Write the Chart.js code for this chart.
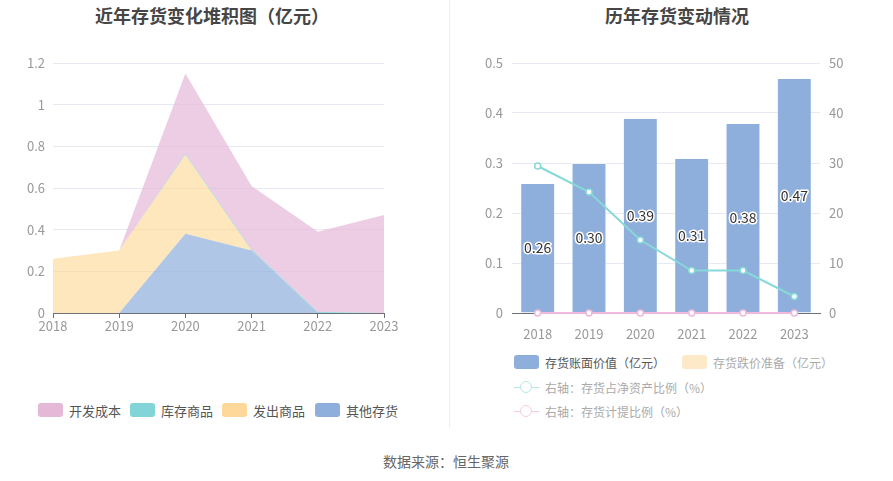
<!DOCTYPE html>
<html>
<head>
<meta charset="utf-8">
<script src="https://cdn.jsdelivr.net/npm/chart.js@4"></script>
<style>
  body { margin: 0; width: 893px; height: 481px; background: #fff; position: relative; overflow: hidden;
         font-family: "Noto Sans CJK SC", "Noto Sans", sans-serif; }
  .title { position: absolute; top: 2px; font-size: 18px; font-weight: bold; color: #464646; transform: translateX(-50%); white-space: nowrap; }
  .divider { position: absolute; left: 449px; top: 0; width: 1px; height: 428px; background: #eeeeee; }
  .wrap { position: absolute; top: 0; height: 340px; }
  .legend { position: absolute; white-space: nowrap; }
  .item { position: absolute; display: flex; align-items: center; height: 16px; }
  .box { width: 25px; height: 14px; border-radius: 3px; margin-right: 6px; }
  .lineicon { width: 25px; height: 14px; margin-right: 6px; position: relative; }
  .lineicon i { position: absolute; left: 0; top: 6.5px; width: 25px; height: 1.5px; }
  .lineicon b { position: absolute; left: 6px; top: 1px; width: 10px; height: 10px; border-radius: 50%; background: #fff; border: 1.5px solid; }
  .source { position: absolute; left: 446px; top: 451px; transform: translateX(-50%); font-size: 14px; color: #666; white-space: nowrap; }
</style>
</head>
<body>
<div class="title" style="left:212px">近年存货变化堆积图（亿元）</div>
<div class="title" style="left:677px">历年存货变动情况</div>
<div class="divider"></div>

<div class="wrap" style="left:0;width:449px"><canvas id="stackChart"></canvas></div>
<div class="wrap" style="left:449px;width:444px"><canvas id="changeChart"></canvas></div>

<div class="legend" id="leftLegend" style="font-size:13px"></div>
<div class="legend" id="rightLegend" style="font-size:12px"></div>
<div class="source">数据来源：恒生聚源</div>

<script>
// ── data ──────────────────────────────────
const years = ['2018', '2019', '2020', '2021', '2022', '2023'];

// left: stacked areas (bottom → top)
const otherStock   = [0, 0, 0.38, 0.30, 0, 0];          // 其他存货
const shippedGoods = [0.26, 0.30, 0.38, 0, 0, 0];       // 发出商品
const goodsInStock = [0, 0, 0.005, 0.005, 0.005, 0];    // 库存商品
const devCost      = [0, 0, 0.385, 0.305, 0.385, 0.47]; // 开发成本

// right: bars + lines
const bookValue     = [0.26, 0.30, 0.39, 0.31, 0.38, 0.47]; // 存货账面价值（亿元）
const impairment    = [0, 0, 0, 0, 0, 0];                  // 存货跌价准备（亿元）
const netAssetRatio = [29.4, 24.2, 14.6, 8.5, 8.5, 3.3];   // 存货占净资产比例（%）
const provisionRate = [0, 0, 0, 0, 0, 0];                  // 存货计提比例（%）

const leftTicks   = [0, 0.2, 0.4, 0.6, 0.8, 1, 1.2];
const rightTicksL = [0, 0.1, 0.2, 0.3, 0.4, 0.5];
const rightTicksR = [0, 10, 20, 30, 40, 50];

const FONT = '"Noto Sans CJK SC", "Noto Sans", sans-serif';
const tickFont = { family: FONT, size: 13 };
const tickColor = '#999';
const gridColor = '#e6e9f4';
const axisColor = '#6e7079';
const plain = v => String(Number(v.toFixed(2)));

Chart.defaults.animation = false;
Chart.defaults.font.family = FONT;

// ── CHART 1: stacked area ─────────────────
const stackSeries = [
  { label: '其他存货', data: otherStock,   fill: 'origin', color: 'rgba(142,174,219,0.7)' },
  { label: '发出商品', data: shippedGoods, fill: '-1',     color: 'rgba(253,216,154,0.65)' },
  { label: '库存商品', data: goodsInStock, fill: '-1',     color: 'rgba(130,212,214,0.9)' },
  { label: '开发成本', data: devCost,      fill: '-1',     color: 'rgba(230,184,216,0.7)' }
];

new Chart(document.getElementById('stackChart'), {
  type: 'line',
  data: {
    labels: years,
    datasets: stackSeries.map(s => ({
      label: s.label,
      data: s.data,
      fill: s.fill,
      backgroundColor: s.color,
      borderColor: s.color,
      borderWidth: 0,
      pointRadius: 0,
      tension: 0
    }))
  },
  options: {
    responsive: false,
    maintainAspectRatio: false,
    layout: { padding: { top: 63, right: 65, left: 0, bottom: 0 } },
    plugins: { legend: { display: false }, tooltip: { enabled: false } },
    scales: {
      x: {
        offset: false,
        grid: { drawOnChartArea: false, drawTicks: true, tickLength: 5, color: axisColor },
        border: { color: axisColor },
        ticks: { font: tickFont, color: tickColor, padding: 0, maxRotation: 0 },
        afterFit: s => { s.height = 27; }
      },
      y: {
        stacked: true,
        min: 0, max: 1.2,
        afterBuildTicks: s => { s.ticks = leftTicks.map(v => ({ value: v })); },
        grid: { color: gridColor, drawTicks: false },
        border: { display: false },
        ticks: { font: tickFont, color: tickColor, padding: 8, callback: plain },
        afterFit: s => { s.width = 53; }
      }
    }
  }
});

// ── CHART 2: bars + ratio lines ───────────
const barLabels = {
  id: 'barLabels',
  afterDatasetsDraw(chart) {
    const ctx = chart.ctx;
    const meta = chart.getDatasetMeta(0);
    ctx.save();
    ctx.font = '14px ' + FONT;
    ctx.textAlign = 'center';
    ctx.textBaseline = 'middle';
    ctx.lineJoin = 'round';
    meta.data.forEach((bar, i) => {
      const y = (bar.y + bar.base) / 2;
      const txt = bookValue[i].toFixed(2);
      ctx.lineWidth = 3;
      ctx.strokeStyle = '#fff';
      ctx.strokeText(txt, bar.x, y);
      ctx.fillStyle = '#333';
      ctx.fillText(txt, bar.x, y);
    });
    ctx.restore();
  }
};

new Chart(document.getElementById('changeChart'), {
  type: 'bar',
  data: {
    labels: years,
    datasets: [
      {
        label: '存货账面价值（亿元）',
        data: bookValue,
        yAxisID: 'y',
        backgroundColor: '#8eaedb',
        borderColor: 'rgba(255,255,255,0.45)',
        borderWidth: 1,
        barPercentage: 0.68,
        categoryPercentage: 1,
        order: 3
      },
      {
        label: '存货跌价准备（亿元）',
        data: impairment,
        yAxisID: 'y',
        backgroundColor: '#fde5bf',
        barPercentage: 0.68,
        categoryPercentage: 1,
        hidden: true,
        order: 4
      },
      {
        type: 'line',
        label: '右轴：存货占净资产比例（%）',
        data: netAssetRatio,
        yAxisID: 'y1',
        borderColor: '#86d9d8',
        backgroundColor: '#fff',
        borderWidth: 2,
        pointRadius: 3,
        pointBorderWidth: 1.5,
        pointBorderColor: '#86d9d8',
        pointBackgroundColor: '#fff',
        tension: 0,
        order: 2
      },
      {
        type: 'line',
        label: '右轴：存货计提比例（%）',
        data: provisionRate,
        yAxisID: 'y1',
        borderColor: '#f0b8dd',
        borderWidth: 2,
        pointRadius: 3,
        pointBorderWidth: 1.5,
        pointBorderColor: '#f0b8dd',
        pointBackgroundColor: '#fff',
        tension: 0,
        clip: false,
        order: 1
      }
    ]
  },
  options: {
    responsive: false,
    maintainAspectRatio: false,
    layout: { padding: { top: 63, right: 0, left: 0, bottom: 0 } },
    plugins: { legend: { display: false }, tooltip: { enabled: false } },
    scales: {
      x: {
        grid: { display: false },
        border: { color: axisColor },
        ticks: { font: tickFont, color: tickColor, padding: 5, maxRotation: 0 },
        afterFit: s => { s.height = 27; }
      },
      y: {
        position: 'left',
        min: 0, max: 0.5,
        afterBuildTicks: s => { s.ticks = rightTicksL.map(v => ({ value: v })); },
        grid: { color: gridColor, drawTicks: false },
        border: { display: false },
        ticks: { font: tickFont, color: tickColor, padding: 9, callback: plain },
        afterFit: s => { s.width = 63; }
      },
      y1: {
        position: 'right',
        min: 0, max: 50,
        afterBuildTicks: s => { s.ticks = rightTicksR.map(v => ({ value: v })); },
        grid: { drawOnChartArea: false, drawTicks: false },
        border: { display: false },
        ticks: { font: tickFont, color: tickColor, padding: 9, callback: plain },
        afterFit: s => { s.width = 73; }
      }
    }
  },
  plugins: [barLabels]
});

// size canvases
['stackChart', 'changeChart'].forEach(id => {
  const c = Chart.getChart(id);
  c.resize(c.canvas.parentNode.clientWidth, 340);
});

// ── legends (html) ────────────────────────
const leftLegend = document.getElementById('leftLegend');
const leftItems = [
  { text: '开发成本', color: '#e6b8d8', x: 38 },
  { text: '库存商品', color: '#82d4d6', x: 130 },
  { text: '发出商品', color: '#fdd89a', x: 222 },
  { text: '其他存货', color: '#8eaedb', x: 315 }
];
leftItems.forEach(it => {
  leftLegend.insertAdjacentHTML('beforeend',
    `<div class="item" style="left:${it.x}px;top:402px;color:#555"><div class="box" style="background:${it.color}"></div>${it.text}</div>`);
});

const rightLegend = document.getElementById('rightLegend');
rightLegend.insertAdjacentHTML('beforeend',
  `<div class="item" style="left:514px;top:354px;color:#555"><div class="box" style="background:#8eaedb"></div>存货账面价值（亿元）</div>` +
  `<div class="item" style="left:682px;top:354px;color:#aaa"><div class="box" style="background:#fde9c8"></div>存货跌价准备（亿元）</div>` +
  `<div class="item" style="left:514px;top:379px;color:#aaa"><div class="lineicon"><i style="background:#b5e8e8"></i><b style="border-color:#b5e8e8"></b></div>右轴：存货占净资产比例（%）</div>` +
  `<div class="item" style="left:514px;top:403px;color:#aaa"><div class="lineicon"><i style="background:#f5cce6"></i><b style="border-color:#f5cce6"></b></div>右轴：存货计提比例（%）</div>`);
</script>
</body>
</html>
